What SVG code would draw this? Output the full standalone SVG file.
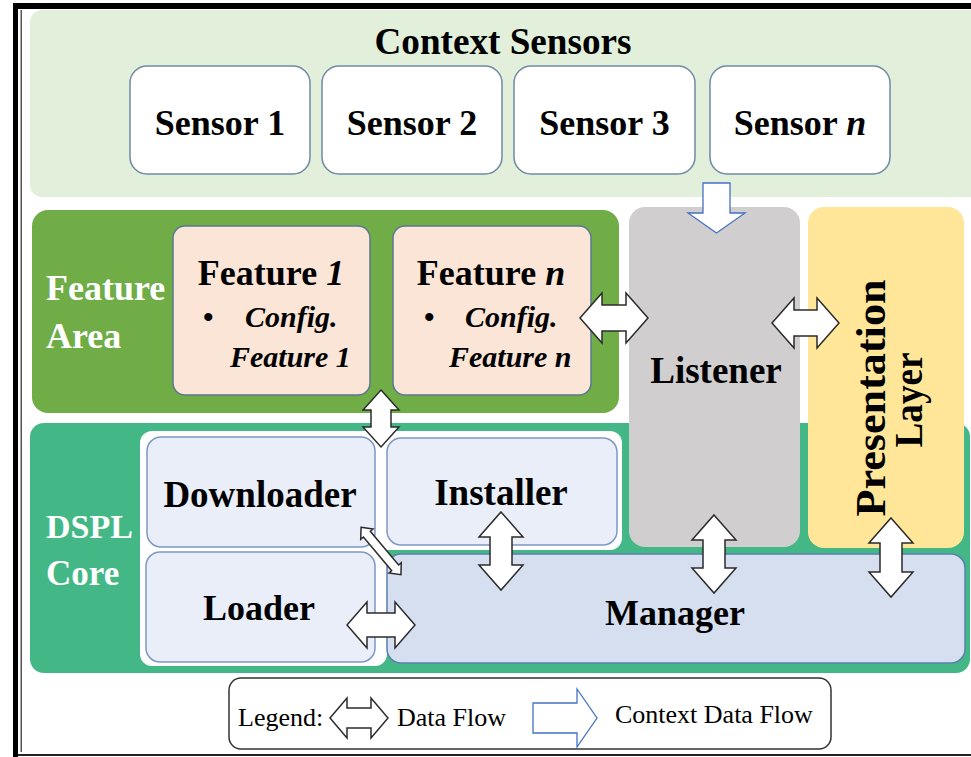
<svg xmlns="http://www.w3.org/2000/svg" width="971" height="757" viewBox="0 0 971 757">
<style>
  text { font-family: "Liberation Serif", "Times New Roman", serif; }
  .b { font-weight: bold; fill: #000; }
  .w { font-weight: bold; fill: #fff; }
  .bi { font-weight: bold; font-style: italic; fill: #000; }
  .sensor { fill: #fff; stroke: #6f8ba5; stroke-width: 1.5; }
  .feat { fill: #fbe5d6; stroke: #5b7791; stroke-width: 1.5; }
  .core { fill: #e9eef8; stroke: #7c98c4; stroke-width: 1.5; }
  .mgr { fill: #d6dff0; stroke: #5b7fae; stroke-width: 1.5; }
  .df { fill: #fff; stroke: #2b2b2b; stroke-width: 1.5; stroke-linejoin: miter; }
  .cf { fill: #fff; stroke: #4472c4; stroke-width: 1.3; }
  .leg { font-weight: normal; fill: #000; font-size: 26px; }
</style>

<!-- frame -->
<rect x="0" y="0" width="971" height="757" fill="#fff"/>
<rect x="13" y="3" width="958" height="6" fill="#000"/>
<rect x="13" y="3" width="5" height="754" fill="#000"/>
<rect x="20.5" y="10" width="1.5" height="742" fill="#555"/>
<rect x="18" y="754" width="953" height="2" fill="#222"/>

<!-- Context Sensors area -->
<g id="context-sensors">
  <rect x="30" y="10" width="960" height="187" rx="12" fill="#e2efda"/>
  <text class="b" x="503" y="54" font-size="37" text-anchor="middle" textLength="257" lengthAdjust="spacingAndGlyphs">Context Sensors</text>
</g>
<g id="sensor1">
  <rect class="sensor" x="130" y="66" width="180" height="108" rx="17"/>
  <text class="b" x="220" y="135" font-size="36" text-anchor="middle">Sensor 1</text>
</g>
<g id="sensor2">
  <rect class="sensor" x="322" y="66" width="180" height="108" rx="17"/>
  <text class="b" x="412" y="135" font-size="36" text-anchor="middle">Sensor 2</text>
</g>
<g id="sensor3">
  <rect class="sensor" x="514" y="66" width="181" height="108" rx="17"/>
  <text class="b" x="604.5" y="135" font-size="36" text-anchor="middle">Sensor 3</text>
</g>
<g id="sensorn">
  <rect class="sensor" x="710" y="66" width="180" height="108" rx="17"/>
  <text class="b" x="800" y="135" font-size="36" text-anchor="middle">Sensor <tspan class="bi">n</tspan></text>
</g>

<!-- DSPL Core area -->
<g id="dspl-core">
  <rect x="30" y="423" width="940" height="250" rx="14" fill="#43b886"/>
  <text class="w" x="46" y="538" font-size="34">DSPL</text>
  <text class="w" x="46" y="585" font-size="35">Core</text>
  <rect x="140" y="431" width="247" height="235" rx="12" fill="#fff"/>
  <rect x="376" y="431" width="246" height="119" rx="12" fill="#fff"/>
</g>

<!-- Feature Area -->
<g id="feature-area">
  <rect x="32" y="210" width="587" height="203" rx="16" fill="#70ad47"/>
  <text class="w" x="46" y="300" font-size="36">Feature</text>
  <text class="w" x="46" y="348" font-size="36">Area</text>
</g>
<g id="feature1">
  <rect class="feat" x="173" y="226" width="197" height="169" rx="12"/>
  <text class="b" x="271" y="285" font-size="36" text-anchor="middle">Feature <tspan class="bi">1</tspan></text>
  <text class="b" x="203" y="327" font-size="30">•</text>
  <text class="bi" x="245" y="327" font-size="30">Config.</text>
  <text class="bi" x="230" y="367" font-size="30">Feature 1</text>
</g>
<g id="featuren">
  <rect class="feat" x="393" y="226" width="198" height="169" rx="12"/>
  <text class="b" x="491" y="285" font-size="36" text-anchor="middle">Feature <tspan class="bi">n</tspan></text>
  <text class="b" x="424" y="327" font-size="30">•</text>
  <text class="bi" x="465" y="327" font-size="30">Config.</text>
  <text class="bi" x="449" y="367" font-size="30">Feature n</text>
</g>

<g id="listener">
  <rect x="629" y="207" width="171" height="340" rx="16" fill="#d0cece"/>
  <text class="b" x="716" y="383" font-size="37" text-anchor="middle">Listener</text>
</g>
<g id="presentation-layer">
  <rect x="808" y="207" width="156" height="341" rx="16" fill="#ffe699"/>
  <text class="b" transform="translate(885,398) rotate(-90)" font-size="42" text-anchor="middle" textLength="237" lengthAdjust="spacingAndGlyphs">Presentation</text>
  <text class="b" transform="translate(922,400) rotate(-90)" font-size="41" text-anchor="middle" textLength="95" lengthAdjust="spacingAndGlyphs">Layer</text>
</g>

<g id="downloader">
  <rect class="core" x="147" y="437" width="228" height="110" rx="14"/>
  <text class="b" x="260" y="507" font-size="37" text-anchor="middle">Downloader</text>
</g>
<g id="installer">
  <rect class="core" x="387" y="438" width="230" height="107" rx="14"/>
  <text class="b" x="501" y="505" font-size="37" text-anchor="middle">Installer</text>
</g>
<g id="loader">
  <rect class="core" x="146" y="552" width="229" height="110" rx="14"/>
  <text class="b" x="259" y="620" font-size="36" text-anchor="middle">Loader</text>
</g>
<g id="manager">
  <rect class="mgr" x="387" y="554" width="578" height="109" rx="14"/>
  <text class="b" x="675" y="625" font-size="36" text-anchor="middle">Manager</text>
</g>

<!-- connectors -->
<g id="connectors">
  <polygon class="cf" points="703,183 730,183 730,213 745,213 716.5,233 688,213 703,213"/>
  <polygon class="df" points="580,318 602,293 602,305 626,305 626,293 648,318 626,343 626,331 602,331 602,343"/>
  <polygon class="df" points="772,323 794,298 794,310 817,310 817,298 839,323 817,348 817,336 794,336 794,348"/>
  <polygon class="df" points="381,390 399,410 391,410 391,427 399,427 381,447 363,427 371,427 371,410 363,410"/>
  <polygon class="df" points="501,512 523,537 512,537 512,565 523,565 501,590 479,565 490,565 490,537 479,537"/>
  <polygon class="df" points="714,515 736,540 725,540 725,568 736,568 714,593 692,568 703,568 703,540 692,540"/>
  <polygon class="df" points="891,518 913,543 902,543 902,572 913,572 891,597 869,572 880,572 880,543 869,543"/>
  <polygon class="df" points="347,625 367,602 367,613 395,613 395,602 415,625 395,648 395,637 367,637 367,648"/>
  <polygon class="df" transform="translate(381,551) rotate(50)" points="-31,0 -22,-8 -22,-4.5 22,-4.5 22,-8 31,0 22,8 22,4.5 -22,4.5 -22,8"/>
</g>

<!-- legend -->
<g id="legend">
  <rect x="229" y="678" width="602" height="71" rx="12" fill="#fff" stroke="#333" stroke-width="1.5"/>
  <text class="leg" x="238" y="726">Legend:</text>
  <polygon class="df" points="330,718 347,698 347,708 371,708 371,698 388,718 371,738 371,728 347,728 347,738"/>
  <text class="leg" x="397" y="726">Data Flow</text>
  <polygon class="cf" points="533,703 577,703 577,689 597,718 577,747 577,733 533,733"/>
  <text class="leg" x="615" y="723">Context Data Flow</text>
</g>
</svg>
